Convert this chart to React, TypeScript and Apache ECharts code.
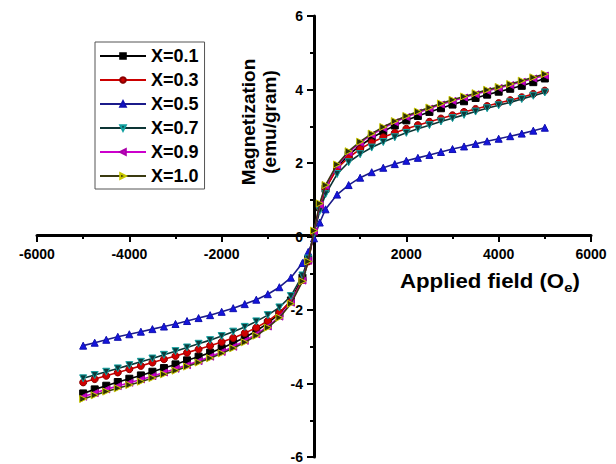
import React, { useEffect, useRef } from "react";
import * as echarts from "echarts";

const FIELD = [
  -5000, -4750, -4500, -4250, -4000, -3750, -3500, -3250, -3000, -2750, -2500,
  -2250, -2000, -1750, -1500, -1250, -1000, -750, -500, -250, -125, 0, 125, 250,
  500, 750, 1000, 1250, 1500, 1750, 2000, 2250, 2500, 2750, 3000, 3250, 3500,
  3750, 4000, 4250, 4500, 4750, 5000,
];

const SERIES_NAMES = ["X=0.1", "X=0.3", "X=0.5", "X=0.7", "X=0.9", "X=1.0"];

const M_X01 = [
  -4.27, -4.16, -4.06, -3.96, -3.87, -3.78, -3.68, -3.58, -3.48, -3.37, -3.27,
  -3.16, -3.04, -2.9, -2.75, -2.57, -2.36, -2.1, -1.74, -1.12, -0.62, 0.12, 0.8,
  1.3, 1.88, 2.22, 2.47, 2.68, 2.86, 3.02, 3.16, 3.28, 3.39, 3.49, 3.59, 3.68,
  3.77, 3.86, 3.94, 4.02, 4.1, 4.2, 4.3,
];
const M_X03 = [
  -3.97, -3.88, -3.79, -3.7, -3.61, -3.52, -3.43, -3.34, -3.25, -3.16, -3.07,
  -2.97, -2.87, -2.76, -2.63, -2.48, -2.3, -2.07, -1.76, -1.18, -0.68, 0.1, 0.78,
  1.3, 1.85, 2.15, 2.38, 2.56, 2.7, 2.82, 2.93, 3.03, 3.12, 3.21, 3.3, 3.39,
  3.47, 3.55, 3.63, 3.71, 3.79, 3.88, 3.97,
];
const M_X05 = [
  -2.97, -2.89, -2.81, -2.73, -2.66, -2.59, -2.52, -2.45, -2.38, -2.3, -2.22,
  -2.14, -2.05, -1.95, -1.84, -1.72, -1.57, -1.38, -1.12, -0.72, -0.42, -0.05,
  0.38, 0.74, 1.14, 1.4, 1.6, 1.75, 1.87, 1.97, 2.06, 2.14, 2.22, 2.3, 2.38,
  2.45, 2.52, 2.59, 2.66, 2.73, 2.8, 2.88, 2.96,
];
const M_X07 = [
  -3.86, -3.77, -3.68, -3.59, -3.5, -3.41, -3.32, -3.22, -3.12, -3.02, -2.92,
  -2.82, -2.71, -2.59, -2.46, -2.31, -2.14, -1.93, -1.62, -1.06, -0.6, 0.08, 0.7,
  1.15, 1.7, 2.02, 2.24, 2.42, 2.57, 2.7, 2.82, 2.93, 3.03, 3.13, 3.22, 3.31,
  3.4, 3.49, 3.57, 3.65, 3.74, 3.83, 3.92,
];
const M_X09 = [
  -4.36, -4.26, -4.16, -4.07, -3.98, -3.89, -3.8, -3.7, -3.6, -3.5, -3.39,
  -3.27, -3.14, -3.0, -2.84, -2.66, -2.45, -2.18, -1.8, -1.2, -0.66, 0.14, 0.86,
  1.38, 1.93, 2.29, 2.55, 2.77, 2.95, 3.11, 3.25, 3.37, 3.48, 3.59, 3.69, 3.78,
  3.87, 3.96, 4.04, 4.12, 4.21, 4.3, 4.38,
];
const M_X10 = [
  -4.42, -4.32, -4.22, -4.13, -4.04, -3.95, -3.85, -3.75, -3.65, -3.54, -3.43,
  -3.31, -3.18, -3.04, -2.88, -2.7, -2.48, -2.21, -1.83, -1.22, -0.68, 0.16, 0.9,
  1.4, 1.96, 2.32, 2.58, 2.8, 2.98, 3.14, 3.28, 3.4, 3.51, 3.62, 3.72, 3.81, 3.9,
  3.99, 4.07, 4.15, 4.24, 4.33, 4.42,
];

const SERIES_VALUES = [M_X01, M_X03, M_X05, M_X07, M_X09, M_X10];

const FONT = '"Liberation Sans", Arial, Helvetica, sans-serif';

const STYLES = [
  { symbol: "rect", rotate: 0, line: "#000000", fill: "#000000", border: "#000000" },
  { symbol: "circle", rotate: 0, line: "#cc0000", fill: "#d00000", border: "#8a0000" },
  { symbol: "triangle", rotate: 0, line: "#1b1b8a", fill: "#1515dd", border: "#1010b0" },
  { symbol: "triangle", rotate: 180, line: "#0d3535", fill: "#0b3b3b", border: "#12a0a0" },
  { symbol: "triangle", rotate: 90, line: "#cc00cc", fill: "#cc00cc", border: "#aa00aa" },
  { symbol: "triangle", rotate: -90, line: "#3a3a10", fill: "#2e2e05", border: "#c8c800" },
];

// layout (px)
const W = 616;
const H = 464;
const GRID_LEFT = 37;
const GRID_RIGHT = 25;
const GRID_TOP = 16;
const GRID_BOTTOM = 4;
const PLOT_W = W - GRID_LEFT - GRID_RIGHT;
const PLOT_H = H - GRID_TOP - GRID_BOTTOM;

export default function App() {
  const ref = useRef<HTMLDivElement>(null);

  useEffect(() => {
    if (!ref.current) return;
    const chart = echarts.init(ref.current, null, { renderer: "svg" });

    const series = SERIES_NAMES.map((name, i) => ({
      name,
      type: "line",
      data: FIELD.map((x, j) => [x, SERIES_VALUES[i][j]]),
      symbol: STYLES[i].symbol,
      symbolRotate: STYLES[i].rotate,
      symbolSize: 7,
      showSymbol: true,
      showAllSymbol: true,
      lineStyle: { color: STYLES[i].line, width: 1.6 },
      itemStyle: {
        color: STYLES[i].fill,
        borderColor: STYLES[i].border,
        borderWidth: 1,
      },
      emphasis: { disabled: true },
      z: 2 + i,
    }));

    const axisCommon = {
      type: "value",
      axisTick: { show: true, length: 7, lineStyle: { color: "#000", width: 2 } },
      minorTick: { show: true, splitNumber: 2, length: 4, lineStyle: { color: "#000", width: 2 } },
      splitLine: { show: false },
      minorSplitLine: { show: false },
    };

    chart.setOption({
      animation: false,
      backgroundColor: "#ffffff",
      grid: { left: GRID_LEFT, right: GRID_RIGHT, top: GRID_TOP, bottom: GRID_BOTTOM, containLabel: false },
      xAxis: {
        ...axisCommon,
        min: -6000,
        max: 6000,
        interval: 2000,
        position: "bottom",
        offset: -PLOT_H / 2,
        axisLine: { show: true, onZero: false, lineStyle: { color: "#000", width: 3 } },
        axisLabel: {
          color: "#000",
          fontWeight: "bold",
          fontSize: 14,
          fontFamily: FONT,
          margin: 12,
          showMinLabel: true,
          showMaxLabel: true,
          formatter: (v: number) => (v === 0 ? "" : String(v)),
        },
      },
      yAxis: {
        ...axisCommon,
        min: -6,
        max: 6,
        interval: 2,
        position: "left",
        offset: -PLOT_W / 2,
        axisLine: { show: true, onZero: false, lineStyle: { color: "#000", width: 3 } },
        axisLabel: {
          color: "#000",
          fontWeight: "bold",
          fontSize: 14,
          fontFamily: FONT,
          margin: 11,
          showMinLabel: true,
          showMaxLabel: true,
        },
      },
      legend: {
        orient: "vertical",
        left: 95,
        top: 42,
        itemWidth: 46,
        itemHeight: 7,
        itemGap: 6,
        padding: [5, 6, 4, 4],
        borderColor: "#555",
        borderWidth: 1,
        backgroundColor: "#fff",
        textStyle: { fontSize: 18, fontWeight: "bold", color: "#000", fontFamily: FONT },
        data: SERIES_NAMES,
      },
      graphic: [
        {
          type: "text",
          x: 248,
          y: 122,
          rotation: Math.PI / 2,
          style: {
            text: "Magnetization",
            fontSize: 19,
            fontWeight: "bold",
            fontFamily: FONT,
            fill: "#000",
            align: "center",
            verticalAlign: "middle",
          },
        },
        {
          type: "text",
          x: 269,
          y: 122,
          rotation: Math.PI / 2,
          style: {
            text: "(emu/gram)",
            fontSize: 19,
            fontWeight: "bold",
            fontFamily: FONT,
            fill: "#000",
            align: "center",
            verticalAlign: "middle",
          },
        },
        {
          type: "text",
          x: 400,
          y: 281,
          scaleX: 1.14,
          style: {
            text: "Applied field (O{sub|e})",
            fontSize: 19.5,
            fontWeight: "bold",
            fontFamily: FONT,
            fill: "#000",
            align: "left",
            verticalAlign: "middle",
            lineHeight: 26,
            rich: {
              sub: {
                fontSize: 13,
                fontWeight: "bold",
                fontFamily: FONT,
                fill: "#000",
                verticalAlign: "bottom",
              },
            },
          },
        },
      ],
      series,
    });

    return () => chart.dispose();
  }, []);

  return (
    <div
      ref={ref}
      style={{ position: "fixed", left: 0, top: 0, width: W, height: H, background: "#fff" }}
    />
  );
}
